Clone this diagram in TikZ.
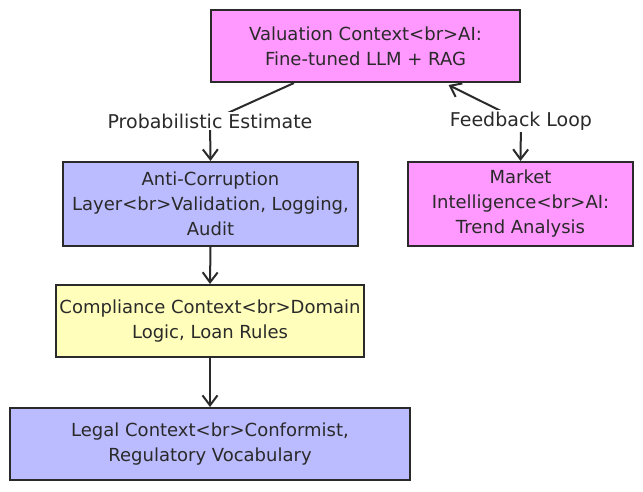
\documentclass[tikz,border=0pt]{standalone}
\usepackage{fontspec}
\setmainfont{DejaVu Sans}
\usetikzlibrary{arrows.meta,calc}
\definecolor{pinkbox}{HTML}{FF99FF}
\definecolor{bluebox}{HTML}{BBBBFF}
\definecolor{yellowbox}{HTML}{FFFFBB}
\definecolor{ink}{HTML}{2A2A2A}
\tikzset{
  box/.style={draw=ink, line width=2pt, rectangle, align=center, inner sep=0pt,
    font=\fontsize{18}{25}\selectfont, text=ink},
  lbl/.style={fill=white, inner sep=2pt, font=\fontsize{19}{22}\selectfont, text=ink},
  conn/.style={draw=ink, line width=2pt},
  tip/.style={-{Straight Barb[length=10pt,width=15pt,line width=2pt]}},
}
\begin{document}
\begin{tikzpicture}[x=1pt,y=-1pt]
\useasboundingbox (0,0) rectangle (643,491);
\node[box, fill=pinkbox, minimum width=309pt, minimum height=72pt] (val) at (365.5,46)
  {Valuation Context<br>AI:\\Fine-tuned LLM + RAG};
\node[box, fill=bluebox, minimum width=295pt, minimum height=84pt] (anti) at (210.5,204)
  {Anti-Corruption\\Layer<br>Validation, Logging,\\Audit};
\node[box, fill=pinkbox, minimum width=225pt, minimum height=84pt] (mkt) at (520.5,204)
  {Market\\Intelligence<br>AI:\\Trend Analysis};
\node[box, fill=yellowbox, minimum width=308pt, minimum height=72pt] (comp) at (210,321)
  {Compliance Context<br>Domain\\Logic, Loan Rules};
\node[box, fill=bluebox, minimum width=400pt, minimum height=72pt] (legal) at (210,444)
  {Legal Context<br>Conformist,\\Regulatory Vocabulary};
\coordinate (pe) at (210,121);
\coordinate (fb) at (521,121);
\draw[conn,tip] ($(val.south west)!0.27!(val.south east)$) -- (pe)
  node[lbl] {Probabilistic Estimate} -- (anti.north);
\draw[conn,tip] (fb) -- (mkt.north);
\draw[conn,tip] (fb) -- ($(val.south west)!0.767!(val.south east)+(0,2)$);
\node[lbl] (fbl) at (fb) {Feedback Loop};
\draw[conn,tip] (anti.south) -- (comp.north);
\draw[conn,tip] (comp.south) -- (legal.north);
\end{tikzpicture}
\end{document}
